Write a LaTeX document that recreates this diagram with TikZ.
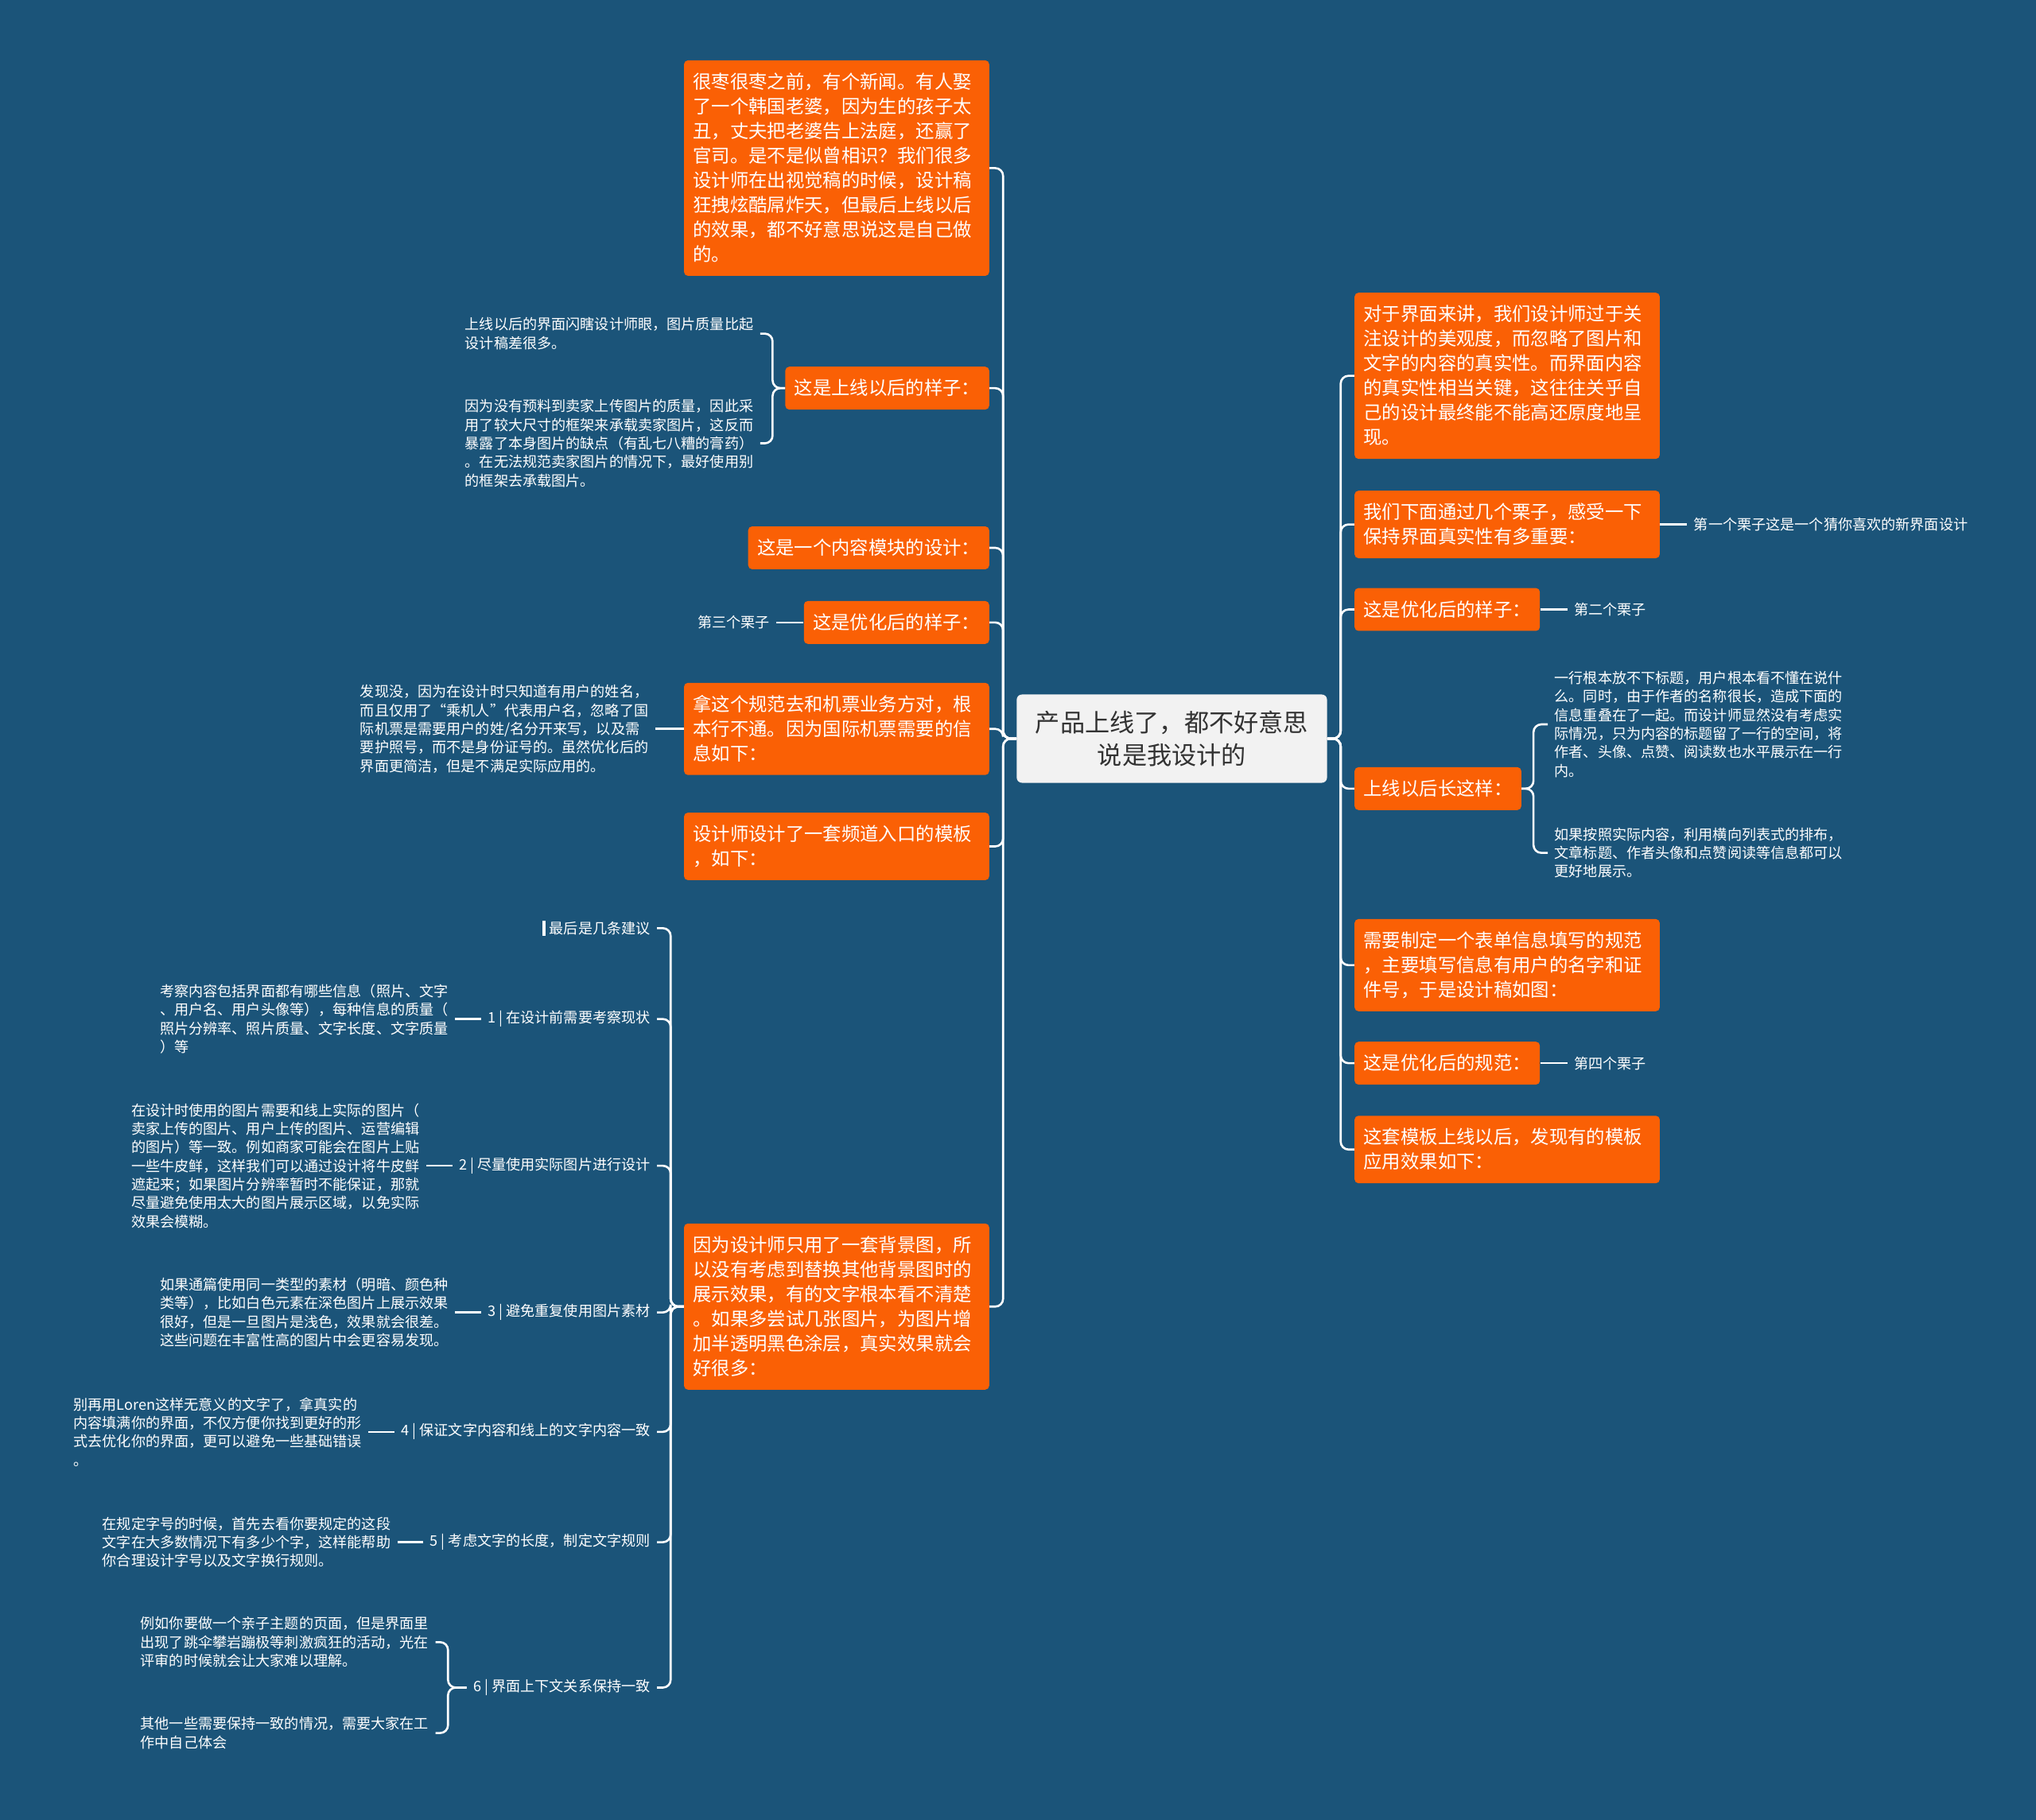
\documentclass[tikz,border=0pt]{standalone}
\usepackage{fontspec}
\setmainfont{Noto Sans CJK SC}
\usetikzlibrary{positioning}
\definecolor{mapblue}{RGB}{27,84,121}
\definecolor{maporange}{RGB}{250,96,5}
\definecolor{rootgray}{RGB}{242,242,242}
\definecolor{rootink}{RGB}{51,51,51}
\newcommand\boxstrut{\rule[-4.2pt]{0pt}{19pt}}
\tikzset{
topicbox/.style = {rectangle, rounded corners = 3pt, fill = maporange, text = white,
   inner xsep = 7pt, inner ysep = 7pt, align = left,
   font = \fontsize{14.3pt}{19pt}\selectfont,
   execute at begin node = \boxstrut, execute at end node = \boxstrut},
widebox/.style = {topicbox, text width = 221pt},
rootbox/.style = {rectangle, rounded corners = 4pt, fill = rootgray, text = rootink,
   minimum width = 239pt, minimum height = 68pt, align = center,
   font = \fontsize{19.1pt}{25pt}\selectfont},
leafnote/.style = {text = white, inner xsep = 5pt, inner ysep = 2pt, align = left,
   font = \fontsize{11.1pt}{14.3pt}\selectfont},
branchline/.style = {draw = white, line width = 1.6pt, rounded corners = 6pt}
}

\begin{document}
\begin{tikzpicture}[x = 1pt, y = -1pt]

\fill [mapblue] (0,0) rectangle (1568,1402);

%% Root
\node [rootbox] (root) at (902.5,569) {产品上线了，都不好意思\\说是我设计的};

%% Left topics
\node [widebox, anchor = east] (l1) at (762,129.5) {很枣很枣之前，有个新闻。有人娶\\了一个韩国老婆，因为生的孩子太\\丑，丈夫把老婆告上法庭，还赢了\\官司。是不是似曾相识？我们很多\\设计师在出视觉稿的时候，设计稿\\狂拽炫酷屌炸天，但最后上线以后\\的效果，都不好意思说这是自己做\\的。};
\node [topicbox, anchor = east] (l2) at (762,299) {这是上线以后的样子：};
\node [topicbox, anchor = east] (l3) at (762,422) {这是一个内容模块的设计：};
\node [topicbox, anchor = east] (l4) at (762,479.5) {这是优化后的样子：};
\node [widebox, anchor = east] (l5) at (762,561.5) {拿这个规范去和机票业务方对，根\\本行不通。因为国际机票需要的信\\息如下：};
\node [widebox, anchor = east] (l6) at (762,652) {设计师设计了一套频道入口的模板\\，如下：};
\node [widebox, anchor = east] (l7) at (762,1006.5) {因为设计师只用了一套背景图，所\\以没有考虑到替换其他背景图时的\\展示效果，有的文字根本看不清楚\\。如果多尝试几张图片，为图片增\\加半透明黑色涂层，真实效果就会\\好很多：};

%% Right topics
\node [widebox, anchor = west] (r1) at (1043,289.5) {对于界面来讲，我们设计师过于关\\注设计的美观度，而忽略了图片和\\文字的内容的真实性。而界面内容\\的真实性相当关键，这往往关乎自\\己的设计最终能不能高还原度地呈\\现。};
\node [widebox, anchor = west] (r2) at (1043,404) {我们下面通过几个栗子，感受一下\\保持界面真实性有多重要：};
\node [topicbox, anchor = west] (r3) at (1043,469.5) {这是优化后的样子：};
\node [topicbox, anchor = west] (r4) at (1043,607.5) {上线以后长这样：};
\node [widebox, anchor = west] (r5) at (1043,743.5) {需要制定一个表单信息填写的规范\\，主要填写信息有用户的名字和证\\件号，于是设计稿如图：};
\node [topicbox, anchor = west] (r6) at (1043,819) {这是优化后的规范：};
\node [widebox, anchor = west] (r7) at (1043,885.5) {这套模板上线以后，发现有的模板\\应用效果如下：};

%% Left leaves
\node [leafnote, anchor = west] (la1) at (353,257) {上线以后的界面闪瞎设计师眼，图片质量比起\\设计稿差很多。};
\node [leafnote, anchor = west] (la2) at (353,341.5) {因为没有预料到卖家上传图片的质量，因此采\\用了较大尺寸的框架来承载卖家图片，这反而\\暴露了本身图片的缺点（有乱七八糟的膏药）\\。在无法规范卖家图片的情况下，最好使用别\\的框架去承载图片。};
\node [leafnote] (lc4) [left = 21pt of l4] {第三个栗子};
\node [leafnote] (lc5) [left = 22pt of l5] {发现没，因为在设计时只知道有用户的姓名，\\而且仅用了“乘机人”代表用户名，忽略了国\\际机票是需要用户的姓/名分开来写，以及需\\要护照号，而不是身份证号的。虽然优化后的\\界面更简洁，但是不满足实际应用的。};

%% Suggestions
\node [leafnote, anchor = east] (t0) at (506,715) {\rule[-1.5pt]{2.4pt}{11.5pt}\hspace{3pt}最后是几条建议};
\node [leafnote, anchor = east] (t1) at (506,785) {1 | 在设计前需要考察现状};
\node [leafnote, anchor = east] (t2) at (506,898) {2 | 尽量使用实际图片进行设计};
\node [leafnote, anchor = east] (t3) at (506,1011) {3 | 避免重复使用图片素材};
\node [leafnote, anchor = east] (t4) at (506,1103) {4 | 保证文字内容和线上的文字内容一致};
\node [leafnote, anchor = east] (t5) at (506,1188) {5 | 考虑文字的长度，制定文字规则};
\node [leafnote, anchor = east] (t6) at (506,1300) {6 | 界面上下文关系保持一致};

\node [leafnote] (d1) [left = 20pt of t1] {考察内容包括界面都有哪些信息（照片、文字\\、用户名、用户头像等），每种信息的质量（\\照片分辨率、照片质量、文字长度、文字质量\\）等};
\node [leafnote] (d2) [left = 20pt of t2] {在设计时使用的图片需要和线上实际的图片（\\卖家上传的图片、用户上传的图片、运营编辑\\的图片）等一致。例如商家可能会在图片上贴\\一些牛皮鲜，这样我们可以通过设计将牛皮鲜\\遮起来；如果图片分辨率暂时不能保证，那就\\尽量避免使用太大的图片展示区域，以免实际\\效果会模糊。};
\node [leafnote] (d3) [left = 20pt of t3] {如果通篇使用同一类型的素材（明暗、颜色种\\类等），比如白色元素在深色图片上展示效果\\很好，但是一旦图片是浅色，效果就会很差。\\这些问题在丰富性高的图片中会更容易发现。};
\node [leafnote] (d4) [left = 20pt of t4] {别再用Loren这样无意义的文字了，拿真实的\\内容填满你的界面，不仅方便你找到更好的形\\式去优化你的界面，更可以避免一些基础错误\\。};
\node [leafnote] (d5) [left = 20pt of t5] {在规定字号的时候，首先去看你要规定的这段\\文字在大多数情况下有多少个字，这样能帮助\\你合理设计字号以及文字换行规则。};
\node [leafnote, anchor = west] (e1) at (103,1265) {例如你要做一个亲子主题的页面，但是界面里\\出现了跳伞攀岩蹦极等刺激疯狂的活动，光在\\评审的时候就会让大家难以理解。};
\node [leafnote, anchor = west] (e2) at (103,1335) {其他一些需要保持一致的情况，需要大家在工\\作中自己体会};

%% Right leaves
\node [leafnote] (rc2) [right = 21pt of r2] {第一个栗子这是一个猜你喜欢的新界面设计};
\node [leafnote] (rc3) [right = 21pt of r3] {第二个栗子};
\node [leafnote] (rc6) [right = 21pt of r6] {第四个栗子};
\node [leafnote, anchor = west] (rb1) at (1192,558) {一行根本放不下标题，用户根本看不懂在说什\\么。同时，由于作者的名称很长，造成下面的\\信息重叠在了一起。而设计师显然没有考虑实\\际情况，只为内容的标题留了一行的空间，将\\作者、头像、点赞、阅读数也水平展示在一行\\内。};
\node [leafnote, anchor = west] (rb2) at (1192,657) {如果按照实际内容，利用横向列表式的排布，\\文章标题、作者头像和点赞阅读等信息都可以\\更好地展示。};

%% Trunks
\coordinate (lt) at (772.5,0);
\coordinate (rt) at (1032.5,0);
\coordinate (l2t) at (595,0);
\coordinate (l7t) at (516.5,0);
\coordinate (t6t) at (345,0);
\coordinate (r4t) at (1181,0);

%% Branches - root
\foreach \n in {l1, l2, l3, l4, l5, l6, l7}
   \draw [branchline] (root.west) -- (root.west -| lt) |- (\n.east);
\foreach \n in {r1, r2, r3, r4, r5, r6, r7}
   \draw [branchline] (root.east) -- (root.east -| rt) |- (\n.west);

%% Branches - brackets
\draw [branchline] (l2.west) -- (l2.west -| l2t) |- (la1.east);
\draw [branchline] (l2.west) -- (l2.west -| l2t) |- (la2.east);
\foreach \n in {t0, t1, t2, t3, t4, t5, t6}
   \draw [branchline] (l7.west) -- (l7.west -| l7t) |- (\n.east);
\draw [branchline] (t6.west) -- (t6.west -| t6t) |- (e1.east);
\draw [branchline] (t6.west) -- (t6.west -| t6t) |- (e2.east);
\draw [branchline] (r4.east) -- (r4.east -| r4t) |- (rb1.west);
\draw [branchline] (r4.east) -- (r4.east -| r4t) |- (rb2.west);

%% Branches - single leaves
\draw [branchline] (l4.west) -- (lc4.east);
\draw [branchline] (l5.west) -- (lc5.east);
\draw [branchline] (t1.west) -- (d1.east);
\draw [branchline] (t2.west) -- (d2.east);
\draw [branchline] (t3.west) -- (d3.east);
\draw [branchline] (t4.west) -- (d4.east);
\draw [branchline] (t5.west) -- (d5.east);
\draw [branchline] (r2.east) -- (rc2.west);
\draw [branchline] (r3.east) -- (rc3.west);
\draw [branchline] (r6.east) -- (rc6.west);

\end{tikzpicture}
\end{document}
